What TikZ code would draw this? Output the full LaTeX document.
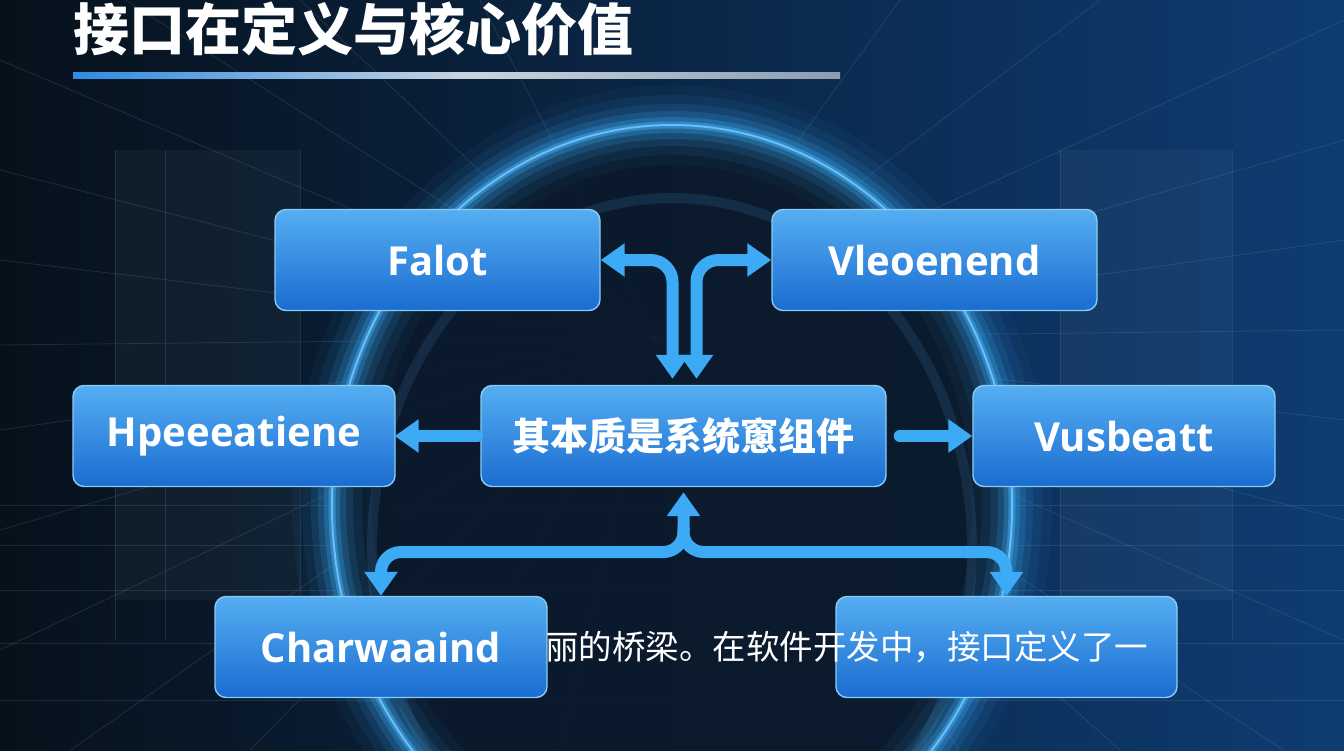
\documentclass[tikz,border=0pt]{standalone}
\usepackage{fontspec}
\setmainfont{Open Sans}
\newfontfamily\cjk{Noto Sans CJK SC}
\usetikzlibrary{arrows.meta}
\definecolor{bgL}{HTML}{07111B}
\definecolor{bgM}{HTML}{0B2036}
\definecolor{bgR}{HTML}{0E3C72}
\definecolor{gridc}{HTML}{7FA0C0}
\definecolor{ringin}{HTML}{0B192A}
\definecolor{ringmid}{HTML}{1A3450}
\definecolor{glowc}{HTML}{3AA6F0}
\definecolor{rimc}{HTML}{8AD4FF}
\definecolor{boxT}{HTML}{55AEF2}
\definecolor{boxB}{HTML}{1A6CD0}
\definecolor{boxE}{HTML}{8ACBF6}
\definecolor{arrc}{HTML}{3DAAF6}
\definecolor{lineA}{HTML}{2E8BE2}
\definecolor{lineB}{HTML}{CAD4DE}
\definecolor{lineC}{HTML}{8C9CB0}
\begin{document}
\begin{tikzpicture}[x=1pt,y=-1pt,
  gridline/.style={draw=gridc, line width=0.8pt, opacity=0.18},
  box/.style={rectangle, rounded corners=11pt, minimum height=101pt,
    top color=boxT, bottom color=boxB, draw=boxE, line width=1.4pt,
    text=white, inner sep=0pt, font=\bfseries\fontsize{40}{44}\selectfont},
  cjkbox/.style={box, font=\cjk\bfseries\fontsize{38}{42}\selectfont},
  conn/.style={draw=arrc, line width=12pt, line cap=round},
  >={Triangle[width=32pt,length=24pt]}]
\useasboundingbox (0,0) rectangle (1344,750);
\begin{scope}
\clip (0,0) rectangle (1344,750);
% background
\shade[left color=bgL, middle color=bgM, right color=bgR] (0,0) rectangle (1344,750);
% wall panels
\fill[white, opacity=0.035] (115,150) rectangle (300,600);
\fill[white, opacity=0.035] (1060,150) rectangle (1232,600);
% perspective grid
\coordinate (vp) at (655,338);
\foreach \p in {(0,-80),(0,60),(0,170),(0,260),(0,345),(0,430),(0,530),(0,650),(0,800),
  (250,750),(420,750),(560,750),(690,750),(820,750),(960,750),(1120,750),
  (1344,790),(1344,640),(1344,520),(1344,420),(1344,330),(1344,240),(1344,140),(1344,20),
  (1100,0),(900,0),(300,0),(480,0)}
  \draw[gridline] (vp) -- \p;
\foreach \y in {505,545,590,643,700}
  \draw[gridline] (0,\y) -- (1344,\y);
\foreach \x in {115,165,300,1060,1232}
  \draw[gridline] (\x,150) -- (\x,640);
% big glowing ellipse
\fill[ringin, opacity=0.9] (672,505) ellipse [x radius=340pt, y radius=380pt];
\draw[ringmid, line width=10pt, opacity=0.7] (672,548) ellipse [x radius=300pt, y radius=350pt];
\foreach \w/\o in {80/0.05,60/0.08,42/0.12,28/0.18,16/0.28,7/0.55}
  \draw[glowc, line width=\w pt, opacity=\o] (672,505) ellipse [x radius=340pt, y radius=380pt];
\draw[rimc, line width=2pt, opacity=0.7] (672,505) ellipse [x radius=340pt, y radius=380pt];
\end{scope}
% title
\node[anchor=base west, inner sep=0pt, text=white,
  font=\cjk\bfseries\fontsize{56}{60}\selectfont] (title) at (73,50) {接口在定义与核心价值};
\fill[left color=lineA, right color=lineB] (73,72) rectangle (470,78);
\fill[left color=lineB, right color=lineC] (470,72) rectangle (840,78);
% boxes
\node[box, minimum width=325pt] (fal) at (437.5,260) {Falot};
\node[box, minimum width=325pt] (vle) at (934.5,260) {Vleoenend};
\node[box, minimum width=322pt] (hpe) at (234,436) {Hpeeeatiene};
\node[cjkbox, minimum width=405pt] (core) at (683.5,436) {其本质是系统窻组件};
\node[box, minimum width=302pt] (vus) at (1124,436) {Vusbeatt};
\node[box, minimum width=341pt] (rb) at (1006.5,647) {};
\node[anchor=west, inner sep=0pt, text=white,
  font=\cjk\fontsize{33.5}{36}\selectfont] (desc) at (545,647) {丽的桥梁。在软件开发中，接口定义了一};
\node[box, minimum width=332pt] (cha) at (381,647) {Charwaaind};
% connectors
\draw[conn, <->, rounded corners=22pt, shorten >=6pt] (fal.east) -| ([xshift=-11pt]core.north);
\draw[conn, <->, rounded corners=22pt, shorten >=6pt] (vle.west) -| ([xshift=13pt]core.north);
\draw[conn, ->] ([xshift=-3pt]core.west) -- ([xshift=-1pt]hpe.east);
\draw[conn, ->] ([xshift=13pt]core.east) -- (vus.west);
\coordinate (jn) at (683.5,552);
\coordinate (jn2) at (683.5,528);
\draw[conn, <->, rounded corners=20pt, shorten <=5pt] (core.south) -- (jn) -| (cha.north);
\draw[conn, ->, rounded corners=20pt] (jn2) -- (jn) -| (rb.north);
\end{tikzpicture}
\end{document}
